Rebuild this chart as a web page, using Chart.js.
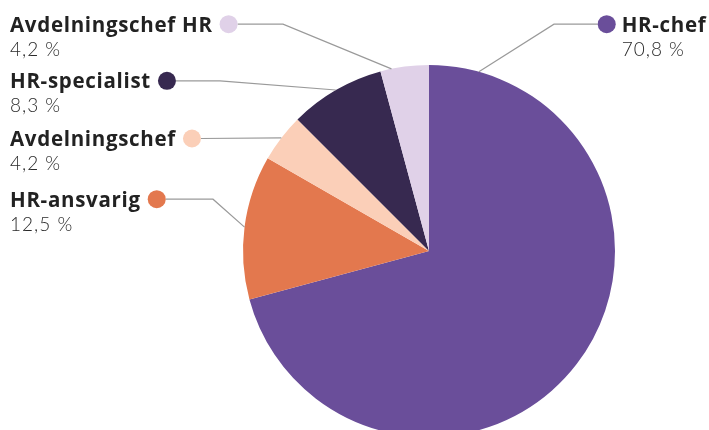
<!DOCTYPE html>
<html>
<head>
<meta charset="utf-8">
<script src="https://cdn.jsdelivr.net/npm/chart.js@4/dist/chart.umd.min.js"></script>
<style>
  html, body { margin: 0; padding: 0; background: #fff; overflow: hidden; }
  #wrap { position: relative; width: 709px; height: 450px; }
</style>
</head>
<body>
<div id="wrap"><canvas id="c" width="709" height="450"></canvas></div>
<script>
// ---- data ----
const categories = ['HR-chef', 'HR-ansvarig', 'Avdelningschef', 'HR-specialist', 'Avdelningschef HR'];
const shares = [70.8, 12.5, 4.2, 8.3, 4.2];
const shareLabels = ['70,8 %', '12,5 %', '4,2 %', '8,3 %', '4,2 %'];
const sliceColors = ['#6a4e9a', '#e3784e', '#fbcfb8', '#372950', '#e0d1e8'];

// ---- label layout (annotation placement, not data) ----
const labelLayout = [
  { side: 'right', baseline: 31.7, dotX: 606.7, elbowX: 554, frac: 0.061 },
  { side: 'left', baseline: 206.7, elbowX: 213, frac: 0.5 },
  { side: 'left', baseline: 146, elbowX: null, frac: 0.5 },
  { side: 'left', baseline: 88.3, elbowX: 220, frac: 0.5 },
  { side: 'left', baseline: 31.7, elbowX: 283, frac: 0.23 }
];

const NAME_FONT = '700 20.5px "Open Sans"';
const PCT_FONT = '300 19px "Lato"';

const calloutPlugin = {
  id: 'callouts',
  afterDraw(chart) {
    const ctx = chart.ctx;
    const meta = chart.getDatasetMeta(0);
    ctx.save();
    meta.data.forEach((arc, i) => {
      const L = labelLayout[i];
      const p = arc.getProps(['x', 'y', 'startAngle', 'endAngle', 'outerRadius'], true);
      const a = p.startAngle + L.frac * (p.endAngle - p.startAngle);
      const ex = p.x + p.outerRadius * Math.cos(a);
      const ey = p.y + p.outerRadius * Math.sin(a);
      const dotY = L.baseline - 7.5;
      ctx.font = NAME_FONT;
      ctx.letterSpacing = '0.7px';
      let textX, dotX;
      if (L.side === 'left') {
        textX = 10;
        const w = ctx.measureText(categories[i]).width;
        dotX = textX + w + 16;
      } else {
        dotX = L.dotX;
        textX = dotX + 15;
      }
      // leader line
      ctx.strokeStyle = '#9a9a9a';
      ctx.lineWidth = 1.2;
      ctx.beginPath();
      const dir = L.side === 'left' ? 1 : -1;
      ctx.moveTo(dotX + dir * 9, dotY);
      if (L.elbowX !== null) ctx.lineTo(L.elbowX, dotY);
      ctx.lineTo(ex, ey);
      ctx.stroke();
      // dot
      ctx.fillStyle = sliceColors[i];
      ctx.beginPath();
      ctx.arc(dotX, dotY, 9, 0, Math.PI * 2);
      ctx.fill();
      // texts
      ctx.fillStyle = '#222';
      ctx.textAlign = 'left';
      ctx.textBaseline = 'alphabetic';
      ctx.font = NAME_FONT;
      ctx.letterSpacing = '0.7px';
      ctx.fillText(categories[i], textX, L.baseline);
      ctx.font = PCT_FONT;
      ctx.letterSpacing = '1px';
      ctx.fillStyle = '#2a2a2a';
      ctx.fillText(shareLabels[i], textX, L.baseline + 24);
    });
    ctx.restore();
  }
};

new Chart(document.getElementById('c'), {
  type: 'pie',
  data: {
    labels: categories,
    datasets: [{
      data: shares,
      backgroundColor: sliceColors,
      borderWidth: 0
    }]
  },
  options: {
    responsive: false,
    animation: false,
    layout: { padding: { left: 243, right: 94, top: 65, bottom: 13 } },
    plugins: { legend: { display: false }, tooltip: { enabled: false } }
  },
  plugins: [calloutPlugin]
});
</script>
</body>
</html>
